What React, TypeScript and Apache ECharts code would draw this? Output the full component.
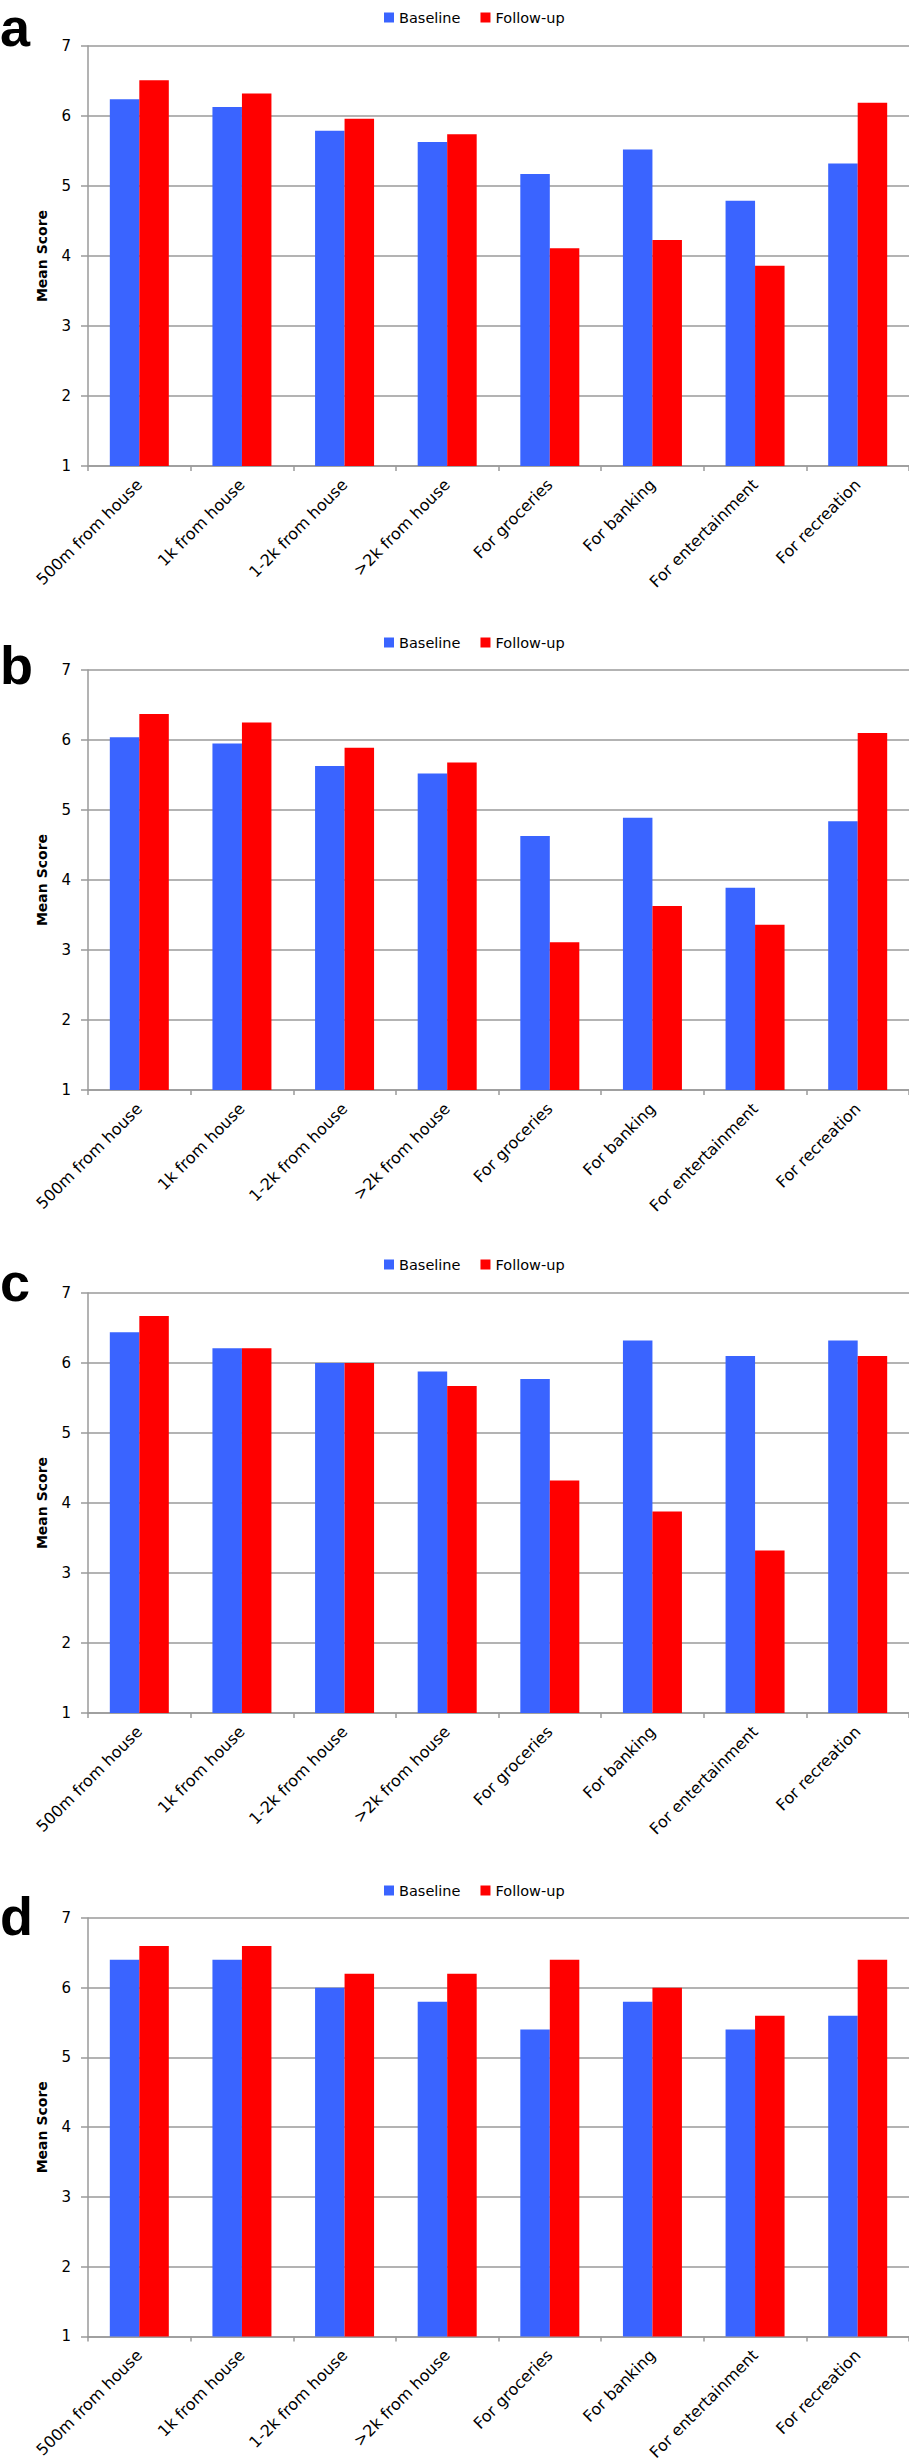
import React, { useEffect, useRef } from "react";
import * as echarts from "echarts";

const categories = [
  "500m from house",
  "1k from house",
  "1-2k from house",
  ">2k from house",
  "For groceries",
  "For banking",
  "For entertainment",
  "For recreation",
];

const seriesNames = ["Baseline", "Follow-up"];
const panelLetters = ["a", "b", "c", "d"];
const yTicks = [1, 2, 3, 4, 5, 6, 7];

const baselineA = [6.24, 6.13, 5.79, 5.63, 5.17, 5.52, 4.79, 5.32];
const followUpA = [6.51, 6.32, 5.96, 5.74, 4.11, 4.23, 3.86, 6.19];

const baselineB = [6.04, 5.95, 5.63, 5.52, 4.63, 4.89, 3.89, 4.84];
const followUpB = [6.37, 6.25, 5.89, 5.68, 3.11, 3.63, 3.36, 6.1];

const baselineC = [6.44, 6.21, 6.0, 5.88, 5.77, 6.32, 6.1, 6.32];
const followUpC = [6.67, 6.21, 6.0, 5.67, 4.32, 3.88, 3.32, 6.1];

const baselineD = [6.4, 6.4, 6.0, 5.8, 5.4, 5.8, 5.4, 5.6];
const followUpD = [6.6, 6.6, 6.2, 6.2, 6.4, 6.0, 5.6, 6.4];

const panels = [
  { base: baselineA, follow: followUpA },
  { base: baselineB, follow: followUpB },
  { base: baselineC, follow: followUpC },
  { base: baselineD, follow: followUpD },
];

const FONT = "DejaVu Sans";
const LETTER_FONT = "Liberation Sans";
const BLUE = "#3a64ff";
const RED = "#ff0000";
const GRAY = "#9a9a9a";

const gridTops = [46, 670, 1293, 1918];
const gridHeight = 420;
const legendTops = [5, 630, 1252, 1878];
const letterTops = [0, 638, 1255, 1889];

export default function App() {
  const ref = useRef<HTMLDivElement>(null);

  useEffect(() => {
    if (!ref.current) return;
    const chart = echarts.init(ref.current, null, { renderer: "svg" });

    const grid = panels.map((_, i) => ({
      left: 88,
      right: 0,
      top: gridTops[i],
      height: gridHeight,
      containLabel: false,
    }));

    const xAxis = panels.map((_, i) => ({
      type: "category",
      gridIndex: i,
      data: categories,
      axisLine: { show: true, lineStyle: { color: GRAY, width: 1.5 } },
      axisTick: {
        show: true,
        length: 5,
        interval: 0,
        alignWithLabel: false,
        lineStyle: { color: GRAY, width: 1.5 },
      },
      axisLabel: {
        interval: 0,
        rotate: 45,
        margin: 16,
        fontFamily: FONT,
        fontSize: 16,
        color: "#000",
      },
      splitLine: { show: false },
    }));

    const yAxis = panels.map((_, i) => ({
      type: "value",
      gridIndex: i,
      min: yTicks[0],
      max: yTicks[yTicks.length - 1],
      interval: 1,
      name: "Mean Score",
      nameLocation: "middle",
      nameRotate: 90,
      nameGap: 39,
      nameTextStyle: {
        fontFamily: FONT,
        fontWeight: "bold",
        fontSize: 14,
        color: "#000",
      },
      axisLine: { show: true, lineStyle: { color: GRAY, width: 1.5 } },
      axisTick: { show: true, length: 7, lineStyle: { color: GRAY, width: 1.5 } },
      axisLabel: {
        margin: 17,
        fontFamily: FONT,
        fontSize: 15,
        color: "#000",
      },
      splitLine: { show: true, lineStyle: { color: GRAY, width: 1.5 } },
    }));

    const legend = panels.map((_, i) => ({
      data: seriesNames,
      left: 379,
      top: legendTops[i],
      icon: "rect",
      itemWidth: 10,
      itemHeight: 10,
      itemGap: 20,
      textStyle: { fontFamily: FONT, fontSize: 14.5, color: "#000" },
    }));

    const series: any[] = [];
    panels.forEach((p, i) => {
      series.push({
        name: seriesNames[0],
        type: "bar",
        xAxisIndex: i,
        yAxisIndex: i,
        data: p.base,
        barWidth: 29.5,
        barGap: "0%",
        itemStyle: { color: BLUE },
      });
      series.push({
        name: seriesNames[1],
        type: "bar",
        xAxisIndex: i,
        yAxisIndex: i,
        data: p.follow,
        barWidth: 29.5,
        barGap: "0%",
        itemStyle: { color: RED },
      });
    });

    const graphic = panelLetters.map((letter, i) => ({
      type: "text",
      left: 0,
      top: letterTops[i],
      style: {
        text: letter,
        fontFamily: LETTER_FONT,
        fontWeight: "bold",
        fontSize: 54,
        lineHeight: 26,
        fill: "#000",
      },
    }));

    chart.setOption({
      animation: false,
      backgroundColor: "#fff",
      grid,
      xAxis,
      yAxis,
      legend,
      series,
      graphic,
    } as any);

    return () => chart.dispose();
  }, []);

  return (
    <div
      ref={ref}
      style={{ position: "absolute", left: 0, top: 0, width: 909, height: 2463 }}
    />
  );
}
